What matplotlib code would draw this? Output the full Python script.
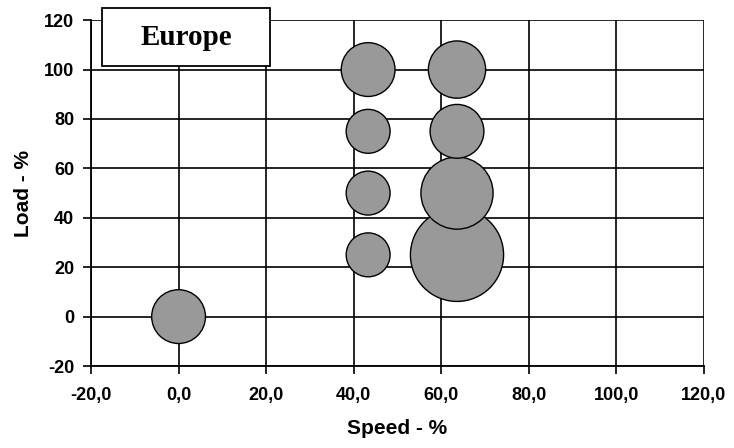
import matplotlib.pyplot as plt
from matplotlib.patches import Rectangle
from matplotlib.ticker import FuncFormatter

# operating points: speed %, load %, weighting (bubble area)
speed = [0.0, 43.3, 43.3, 43.3, 43.3, 63.6, 63.6, 63.6, 63.6]
load = [0, 25, 50, 75, 100, 25, 50, 75, 100]
weight = [15, 10, 10, 10, 15, 45, 27, 15, 17]

xticks = [-20, 0, 20, 40, 60, 80, 100, 120]
yticks = [-20, 0, 20, 40, 60, 80, 100, 120]

plt.rcParams['font.family'] = ['Liberation Sans', 'DejaVu Sans']

fig = plt.figure(figsize=(7.34, 4.48), dpi=100)
ax = fig.add_axes([0.124, 0.183, 0.835, 0.772])

ax.scatter(speed, load, s=[w * 100 for w in weight], facecolor='#999999',
           edgecolor='black', linewidth=1.0, zorder=3, clip_on=False)

ax.set_xlim(-20, 120)
ax.set_ylim(-20, 120)
ax.set_xticks(xticks)
ax.set_yticks(yticks)
ax.xaxis.set_major_formatter(FuncFormatter(lambda v, p: ('%.1f' % v).replace('.', ',')))
ax.yaxis.set_major_formatter(FuncFormatter(lambda v, p: '%d' % v))
ax.grid(True, color='black', linewidth=1.2, zorder=1)
ax.set_axisbelow(True)

for s in ['top', 'right']:
    ax.spines[s].set_visible(False)
for s in ['left', 'bottom']:
    ax.spines[s].set_linewidth(1.3)
ax.tick_params(direction='out', length=6, width=1.2, labelsize=13)
ax.tick_params(axis='x', pad=9)
ax.tick_params(axis='y', pad=6)
for lab in ax.get_xticklabels() + ax.get_yticklabels():
    lab.set_fontweight('bold')

ax.set_xlabel('Speed - %', fontsize=15, fontweight='bold', labelpad=11)
ax.set_ylabel('Load - %', fontsize=15, fontweight='bold', labelpad=8)

# title box in the upper-left corner
fig.add_artist(Rectangle((0.139, 0.853), 0.229, 0.129, transform=fig.transFigure,
                         facecolor='white', edgecolor='black', linewidth=1.3, zorder=5))
fig.text(0.2534, 0.917, 'Europe', ha='center', va='center', fontsize=21,
         fontweight='bold', family=['Liberation Serif', 'DejaVu Serif'], zorder=6)

fig.savefig('out.png', dpi=100)
